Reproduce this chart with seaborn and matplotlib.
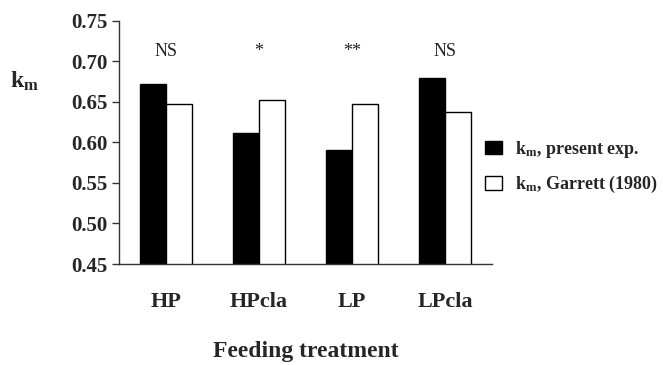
import matplotlib
matplotlib.use("Agg")
import matplotlib.pyplot as plt
import seaborn as sns
import pandas as pd
from matplotlib.patches import Patch

# ---- data ----
categories = ["HP", "HPcla", "LP", "LPcla"]
km_present = [0.672, 0.611, 0.590, 0.679]
km_garrett = [0.647, 0.652, 0.647, 0.638]
significance = ["NS", "*", "**", "NS"]
series_labels = ["k$_\\mathrm{m}$, present exp.", "k$_\\mathrm{m}$, Garrett (1980)"]
y_ticks = [0.45, 0.50, 0.55, 0.60, 0.65, 0.70, 0.75]

df = pd.DataFrame({
    "treatment": categories * 2,
    "km": km_present + km_garrett,
    "series": ["present"] * len(categories) + ["garrett"] * len(categories),
})

sns.set_theme(style="white")
plt.rcParams["font.family"] = ["Liberation Serif", "DejaVu Serif"]
plt.rcParams["mathtext.fontset"] = "custom"
plt.rcParams["mathtext.rm"] = "Liberation Serif:bold"
plt.rcParams["mathtext.it"] = "Liberation Serif:italic:bold"
plt.rcParams["mathtext.bf"] = "Liberation Serif:bold"

fig = plt.figure(figsize=(6.63, 3.65), dpi=100)
ax = fig.add_axes([119 / 663, 1 - 264 / 365, (492 - 119) / 663, (264 - 20.7) / 365])

sns.barplot(data=df, x="treatment", y="km", hue="series", order=categories,
            hue_order=["present", "garrett"],
            palette={"present": "black", "garrett": "white"},
            edgecolor="black", linewidth=1.0, width=0.56, gap=0,
            legend=False, ax=ax, errorbar=None)

ax.set_ylim(0.45, 0.75)
ax.set_xlim(-0.5, len(categories) - 0.5)
ax.set_yticks(y_ticks)
ax.set_yticklabels([f"{v:.2f}" for v in y_ticks], fontsize=15, fontweight="bold")
ax.set_xticks(range(len(categories)))
ax.set_xticklabels(categories, fontsize=16, fontweight="bold")
ax.set_xticks([i - 0.5 for i in range(len(categories) + 1)], minor=True)
ax.tick_params(axis="x", which="major", length=0, pad=20)
ax.tick_params(axis="x", which="minor", length=5, width=1, color="#333333", direction="out")
ax.tick_params(axis="y", which="major", length=5, width=1, color="#333333", direction="out", pad=3, left=True)
ax.set_xlabel("")
ax.set_ylabel("")

for s in ["top", "right"]:
    ax.spines[s].set_visible(False)
for s in ["left", "bottom"]:
    ax.spines[s].set_color("#333333")
    ax.spines[s].set_linewidth(1.0)

for i, txt in enumerate(significance):
    ax.text(i, 0.706, txt, ha="center", va="baseline", fontsize=13, color="#222222")

fig.text(10 / 663, 1 - 88 / 365, "k$_\\mathrm{m}$", fontsize=17, fontweight="bold",
         ha="left", va="baseline")
fig.text((119 + 492) / 2 / 663, 8 / 365, "Feeding treatment", fontsize=17,
         fontweight="bold", ha="center", va="baseline")

handles = [Patch(facecolor="black", edgecolor="black", linewidth=1.0),
           Patch(facecolor="white", edgecolor="black", linewidth=1.0)]
fig.legend(handles, series_labels, loc="center left",
           bbox_to_anchor=(485 / 663, 1 - 167 / 365), frameon=False,
           prop={"family": "Liberation Serif", "weight": "bold", "size": 13},
           handlelength=0.95, handleheight=0.8, handletextpad=0.7,
           labelspacing=0.8, borderpad=0, borderaxespad=0)

fig.savefig("out.png", dpi=100)
